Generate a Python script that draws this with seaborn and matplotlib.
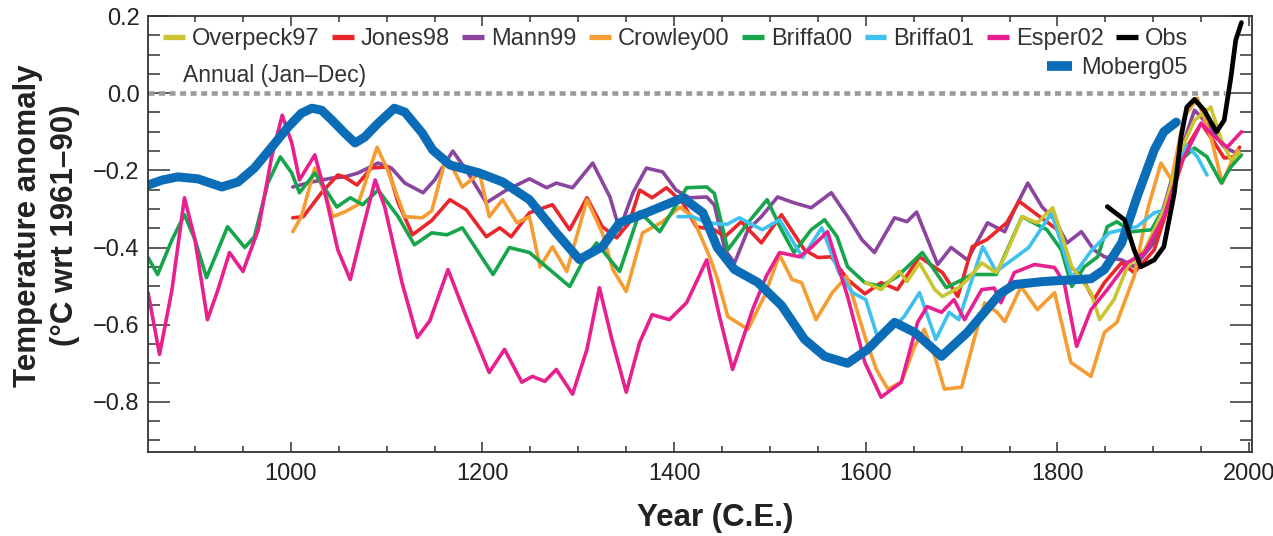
import matplotlib
matplotlib.use('Agg')
import matplotlib.pyplot as plt
from matplotlib.lines import Line2D
from matplotlib.ticker import MultipleLocator, FuncFormatter
import seaborn as sns
import pandas as pd

# temperature reconstructions, values (degC wrt 1961-90)
overpeck97_years = [1600, 1616, 1635, 1643, 1656, 1672, 1680, 1697, 1706, 1721, 1736, 1745, 1763, 1779, 1795,
                    1807, 1815, 1835, 1844, 1859, 1873, 1891, 1911, 1929, 1943, 1960, 1971, 1981, 1990]
overpeck97_vals = [-0.491, -0.509, -0.462, -0.488, -0.44, -0.509, -0.527, -0.504, -0.483, -0.44, -0.465, -0.424,
                   -0.32, -0.336, -0.297, -0.388, -0.45, -0.517, -0.587, -0.535, -0.45, -0.406, -0.302, -0.147,
                   -0.07, -0.036, -0.121, -0.173, -0.155]

jones98_years = [1002, 1013, 1032, 1049, 1056, 1069, 1084, 1101, 1112, 1127, 1147, 1166, 1183, 1204, 1218, 1230,
                 1249, 1273, 1291, 1309, 1325, 1340, 1353, 1364, 1377, 1392, 1409, 1423, 1442, 1453, 1470, 1491,
                 1512, 1536, 1550, 1564, 1581, 1599, 1616, 1633, 1656, 1680, 1696, 1711, 1726, 1747, 1760, 1776,
                 1786, 1800, 1814, 1825, 1838, 1849, 1867, 1880, 1901, 1922, 1935, 1950, 1964, 1974, 1984, 1990]
jones98_vals = [-0.323, -0.32, -0.258, -0.212, -0.217, -0.238, -0.194, -0.191, -0.284, -0.367, -0.33, -0.276,
                -0.302, -0.372, -0.349, -0.372, -0.31, -0.289, -0.354, -0.271, -0.346, -0.375, -0.336, -0.251,
                -0.271, -0.245, -0.284, -0.346, -0.354, -0.372, -0.333, -0.388, -0.315, -0.406, -0.426, -0.424,
                -0.483, -0.52, -0.491, -0.509, -0.424, -0.465, -0.527, -0.398, -0.38, -0.336, -0.28, -0.31,
                -0.328, -0.354, -0.45, -0.475, -0.535, -0.491, -0.439, -0.465, -0.406, -0.243, -0.14, -0.078,
                -0.129, -0.168, -0.165, -0.14]

mann99_years = [1002, 1022, 1043, 1056, 1070, 1091, 1105, 1119, 1138, 1150, 1169, 1183, 1204, 1225, 1249, 1267,
                1277, 1294, 1315, 1333, 1343, 1357, 1371, 1388, 1402, 1416, 1434, 1442, 1453, 1463, 1477, 1491,
                1508, 1525, 1543, 1564, 1581, 1596, 1609, 1630, 1643, 1653, 1675, 1689, 1706, 1727, 1745, 1755,
                1769, 1784, 1797, 1810, 1825, 1838, 1849, 1867, 1880, 1900, 1922, 1943, 1956, 1974, 1984]
mann99_vals = [-0.243, -0.23, -0.22, -0.217, -0.207, -0.181, -0.194, -0.233, -0.258, -0.225, -0.15, -0.199,
               -0.284, -0.251, -0.222, -0.245, -0.233, -0.245, -0.181, -0.269, -0.354, -0.258, -0.194, -0.204,
               -0.251, -0.271, -0.269, -0.29, -0.406, -0.44, -0.354, -0.32, -0.269, -0.284, -0.297, -0.258,
               -0.32, -0.38, -0.413, -0.323, -0.333, -0.308, -0.444, -0.40, -0.432, -0.336, -0.359, -0.302,
               -0.233, -0.295, -0.328, -0.388, -0.359, -0.406, -0.424, -0.432, -0.45, -0.39, -0.199, -0.044,
               -0.078, -0.14, -0.152]

crowley00_years = [1002, 1011, 1025, 1035, 1044, 1056, 1070, 1090, 1101, 1119, 1137, 1147, 1162, 1170, 1179, 1197,
                   1207, 1221, 1236, 1249, 1260, 1273, 1288, 1309, 1325, 1336, 1350, 1367, 1388, 1406, 1419, 1437,
                   1445, 1456, 1477, 1494, 1510, 1523, 1533, 1548, 1565, 1580, 1600, 1611, 1623, 1637, 1651, 1661,
                   1672, 1682, 1700, 1713, 1724, 1737, 1745, 1762, 1779, 1797, 1814, 1835, 1849, 1862, 1880, 1894,
                   1908, 1919, 1932, 1946, 1960, 1972, 1981, 1988]
crowley00_vals = [-0.359, -0.32, -0.194, -0.258, -0.32, -0.308, -0.289, -0.14, -0.199, -0.32, -0.323, -0.305,
                  -0.166, -0.199, -0.243, -0.207, -0.32, -0.276, -0.336, -0.32, -0.45, -0.398, -0.462, -0.276,
                  -0.362, -0.457, -0.514, -0.362, -0.333, -0.295, -0.32, -0.424, -0.48, -0.579, -0.612, -0.527,
                  -0.419, -0.483, -0.491, -0.587, -0.517, -0.475, -0.638, -0.716, -0.767, -0.749, -0.656, -0.612,
                  -0.682, -0.767, -0.762, -0.638, -0.543, -0.568, -0.592, -0.501, -0.561, -0.517, -0.698, -0.734,
                  -0.62, -0.594, -0.475, -0.302, -0.181, -0.225, -0.062, -0.013, -0.113, -0.233, -0.181, -0.147]

briffa00_years = [851, 861, 876, 889, 900, 912, 924, 934, 952, 962, 976, 989, 1001, 1009, 1025, 1048, 1062, 1075,
                  1091, 1112, 1129, 1147, 1163, 1179, 1211, 1228, 1249, 1270, 1291, 1304, 1319, 1343, 1364, 1385,
                  1413, 1434, 1442, 1456, 1477, 1497, 1512, 1525, 1543, 1557, 1570, 1581, 1599, 1616, 1633, 1659,
                  1684, 1711, 1736, 1763, 1789, 1804, 1815, 1828, 1842, 1852, 1862, 1877, 1898, 1914, 1929, 1943,
                  1956, 1971, 1981, 1992]
briffa00_vals = [-0.426, -0.47, -0.38, -0.315, -0.38, -0.478, -0.406, -0.346, -0.40, -0.372, -0.233, -0.165,
                 -0.207, -0.258, -0.207, -0.295, -0.271, -0.289, -0.251, -0.32, -0.393, -0.362, -0.367, -0.349,
                 -0.47, -0.40, -0.413, -0.457, -0.501, -0.439, -0.388, -0.462, -0.308, -0.359, -0.245, -0.243,
                 -0.26, -0.406, -0.336, -0.276, -0.354, -0.413, -0.354, -0.328, -0.372, -0.45, -0.491, -0.501,
                 -0.475, -0.413, -0.504, -0.47, -0.47, -0.32, -0.354, -0.406, -0.501, -0.45, -0.424, -0.346,
                 -0.333, -0.359, -0.354, -0.284, -0.173, -0.142, -0.165, -0.233, -0.191, -0.16]

briffa01_years = [1404, 1419, 1434, 1455, 1468, 1492, 1510, 1534, 1554, 1572, 1586, 1600, 1612, 1627, 1640, 1656,
                  1673, 1687, 1697, 1722, 1736, 1757, 1770, 1794, 1815, 1836, 1854, 1867, 1883, 1901, 1913, 1925,
                  1935, 1946, 1956]
briffa01_vals = [-0.32, -0.32, -0.336, -0.34, -0.323, -0.354, -0.328, -0.426, -0.349, -0.465, -0.517, -0.535,
                 -0.63, -0.612, -0.579, -0.517, -0.638, -0.568, -0.587, -0.398, -0.462, -0.424, -0.40, -0.31,
                 -0.478, -0.406, -0.362, -0.354, -0.346, -0.31, -0.302, -0.191, -0.134, -0.165, -0.212]

esper02_years = [851, 863, 876, 889, 900, 913, 924, 936, 950, 966, 980, 991, 1001, 1009, 1025, 1035, 1049, 1062,
                 1074, 1088, 1098, 1116, 1132, 1145, 1164, 1183, 1207, 1223, 1241, 1252, 1265, 1277, 1294, 1309,
                 1322, 1335, 1350, 1364, 1377, 1395, 1413, 1434, 1447, 1461, 1482, 1496, 1510, 1531, 1544, 1560,
                 1581, 1599, 1616, 1637, 1654, 1664, 1679, 1692, 1703, 1721, 1734, 1741, 1755, 1776, 1797, 1807,
                 1820, 1835, 1852, 1873, 1891, 1911, 1929, 1950, 1964, 1977, 1992]
esper02_vals = [-0.517, -0.677, -0.509, -0.271, -0.38, -0.587, -0.509, -0.413, -0.462, -0.354, -0.165, -0.057,
                -0.129, -0.225, -0.16, -0.251, -0.406, -0.483, -0.362, -0.225, -0.295, -0.491, -0.633, -0.59,
                -0.457, -0.579, -0.724, -0.664, -0.749, -0.734, -0.747, -0.716, -0.78, -0.664, -0.504, -0.638,
                -0.775, -0.646, -0.574, -0.587, -0.543, -0.432, -0.575, -0.716, -0.56, -0.475, -0.413, -0.424,
                -0.398, -0.359, -0.527, -0.698, -0.788, -0.749, -0.594, -0.553, -0.568, -0.535, -0.587, -0.509,
                -0.505, -0.543, -0.465, -0.444, -0.452, -0.491, -0.656, -0.561, -0.509, -0.439, -0.413, -0.32,
                -0.181, -0.078, -0.113, -0.14, -0.10]

obs_years = [1852, 1870, 1880, 1887, 1901, 1911, 1922, 1929, 1935, 1943, 1953, 1966, 1974, 1981, 1986, 1992]
obs_vals = [-0.294, -0.328, -0.406, -0.45, -0.432, -0.398, -0.258, -0.113, -0.036, -0.016, -0.044, -0.10, -0.07,
            0.041, 0.137, 0.183]

moberg05_years = [851, 866, 882, 903, 928, 945, 962, 980, 997, 1011, 1022, 1032, 1043, 1056, 1067, 1077, 1091,
                  1108, 1119, 1126, 1137, 1148, 1166, 1197, 1221, 1249, 1277, 1301, 1325, 1343, 1371, 1409, 1430,
                  1445, 1463, 1487, 1512, 1536, 1557, 1581, 1602, 1630, 1651, 1679, 1706, 1740, 1755, 1786, 1835,
                  1849, 1867, 1883, 1901, 1911, 1924]
moberg05_vals = [-0.238, -0.225, -0.217, -0.222, -0.243, -0.23, -0.194, -0.14, -0.088, -0.052, -0.039, -0.044,
                 -0.07, -0.103, -0.129, -0.114, -0.078, -0.039, -0.049, -0.07, -0.103, -0.147, -0.186, -0.207,
                 -0.23, -0.276, -0.362, -0.431, -0.398, -0.336, -0.31, -0.271, -0.31, -0.40, -0.457, -0.49, -0.55,
                 -0.638, -0.682, -0.70, -0.664, -0.594, -0.62, -0.682, -0.62, -0.52, -0.496, -0.488, -0.481,
                 -0.457, -0.388, -0.269, -0.147, -0.10, -0.075]

zero_line_years = [851, 1975]
zero_line_vals = [0.0, 0.0]

colors = {
    "Overpeck97": "#c9c430",
    "Jones98": "#e8262b",
    "Mann99": "#8c459e",
    "Crowley00": "#f59d32",
    "Briffa00": "#16a54b",
    "Briffa01": "#3fc1ef",
    "Esper02": "#e8208f",
    "Obs": "#000000",
    "Moberg05": "#0b6cb7",
}

# drawing order (last on top)
series = [
    ("Mann99", mann99_years, mann99_vals, 2.6),
    ("Jones98", jones98_years, jones98_vals, 2.6),
    ("Crowley00", crowley00_years, crowley00_vals, 2.6),
    ("Briffa00", briffa00_years, briffa00_vals, 2.6),
    ("Briffa01", briffa01_years, briffa01_vals, 2.6),
    ("Overpeck97", overpeck97_years, overpeck97_vals, 2.6),
    ("Esper02", esper02_years, esper02_vals, 2.6),
    ("Moberg05", moberg05_years, moberg05_vals, 6.5),
    ("Obs", obs_years, obs_vals, 3.4),
]

sns.set_style("ticks")
plt.rcParams['font.family'] = ['Liberation Sans', 'DejaVu Sans']
text_col = "#222222"

fig = plt.figure(figsize=(12.73, 5.36), dpi=100)
ax = fig.add_axes([0.1163, 0.1567, 0.8672, 0.8134])

ax.plot(zero_line_years, zero_line_vals, color="#9a9a9a", linewidth=3.3,
        linestyle=(0, (1.3, 1.0)), dash_capstyle="butt", zorder=1)
ax.text(887, 0.047, "Annual (Jan\u2013Dec)", fontsize=16.5, color="#333333", va="center", ha="left")

for name, yrs, vals, lw in series:
    df = pd.DataFrame({"year": yrs, "anomaly": vals})
    sns.lineplot(data=df, x="year", y="anomaly", color=colors[name], linewidth=lw, ax=ax,
                 sort=False, estimator=None, solid_joinstyle="round", solid_capstyle="round")

ax.set_xlim(851, 2003)
ax.set_ylim(-0.93, 0.2)
ax.xaxis.set_major_locator(MultipleLocator(200))
ax.xaxis.set_minor_locator(MultipleLocator(50))
ax.yaxis.set_major_locator(MultipleLocator(0.2))
ax.yaxis.set_minor_locator(MultipleLocator(0.05))
ax.yaxis.set_major_formatter(FuncFormatter(lambda v, pos: f"{v:.1f}".replace("-", "\u2212")))

ax.tick_params(axis='both', which='both', direction='in', top=True, right=True,
               color="#333333", width=1.1, labelsize=17, labelcolor=text_col)
ax.tick_params(axis='y', which='major', length=16, pad=6)
ax.tick_params(axis='y', which='minor', length=8.5)
ax.tick_params(axis='x', which='major', length=7, pad=8)
ax.tick_params(axis='x', which='minor', length=4)
for sp in ax.spines.values():
    sp.set_color("#333333")
    sp.set_linewidth(1.3)

ax.set_xlabel("Year (C.E.)", fontsize=22.5, fontweight="bold", color=text_col)
ax.set_ylabel("Temperature anomaly\n(\u00b0C wrt 1961\u201390)", fontsize=22.5, fontweight="bold",
              color=text_col, linespacing=1.3)
ax.xaxis.set_label_coords(0.5136, -0.118)
ax.yaxis.set_label_coords(-0.062, 0.52)

row1 = ["Overpeck97", "Jones98", "Mann99", "Crowley00", "Briffa00", "Briffa01", "Esper02", "Obs"]
handles1 = [Line2D([], [], color=colors[n], linewidth=3.8, solid_capstyle="butt") for n in row1]
leg1 = ax.legend(handles1, row1, loc="center left", bbox_to_anchor=(0.0136, 0.947), ncol=8,
                 frameon=False, fontsize=17, handlelength=0.93, handletextpad=0.3, columnspacing=0.52,
                 borderpad=0, borderaxespad=0, labelcolor="#333333")
ax.add_artist(leg1)
handles2 = [Line2D([], [], color=colors["Moberg05"], linewidth=7, solid_capstyle="butt")]
ax.legend(handles2, ["Moberg05"], loc="center right", bbox_to_anchor=(0.942, 0.881),
          frameon=False, fontsize=17, handlelength=1.06, handletextpad=0.38,
          borderpad=0, borderaxespad=0, labelcolor="#333333")

plt.savefig("out.png", dpi=100)
plt.close(fig)
